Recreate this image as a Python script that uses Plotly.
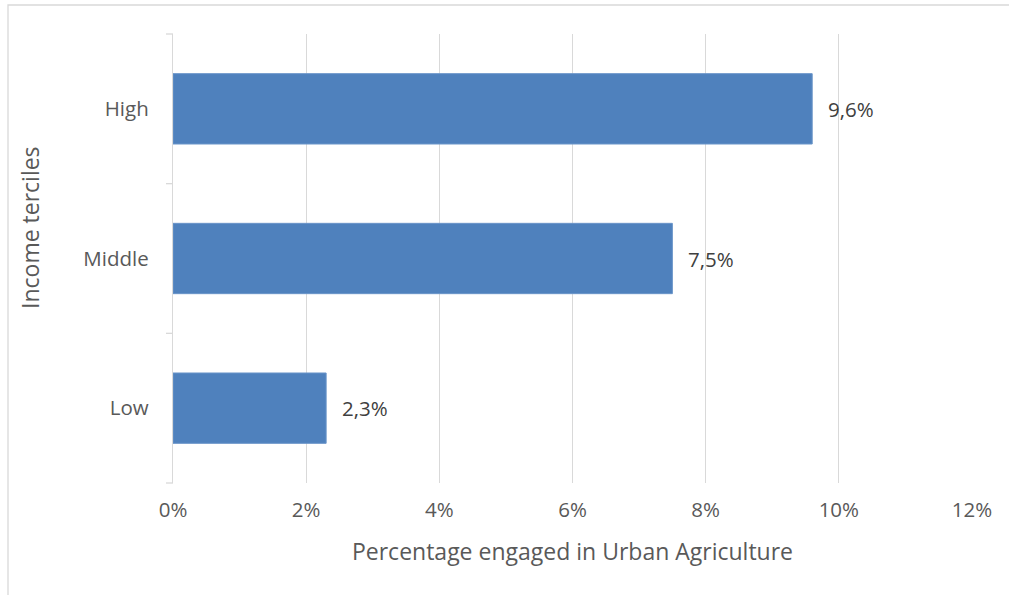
import plotly.graph_objects as go

categories = ["Low", "Middle", "High"]
values = [2.3, 7.5, 9.6]
tick_vals = [0, 2, 4, 6, 8, 10, 12]
tick_text = [f"{v}%" for v in tick_vals]

labels = [f"{v:.1f}".replace(".", ",") + "%" for v in values]

fig = go.Figure()
fig.add_trace(go.Bar(
    y=categories, x=values, orientation="h",
    marker=dict(color="#4f81bd", line=dict(color="#6a95c9", width=1)),
    width=0.47,
    hoverinfo="skip",
))

for c, v, t in zip(categories, values, labels):
    fig.add_annotation(x=v, y=c, text=t, showarrow=False, xanchor="left",
                       xshift=14, font=dict(family="Open Sans", size=20.5, color="#404040"))

# y-axis title (placed as annotation to match original vertical offset)
fig.add_annotation(xref="paper", yref="paper", x=(30 - 173) / 799, y=(483 - 228) / 449,
                   text="Income terciles", textangle=-90, showarrow=False,
                   xanchor="center", yanchor="middle",
                   font=dict(family="Open Sans", size=23, color="#595959"))

fig.update_layout(
    width=1009, height=595,
    margin=dict(l=173, r=37, t=34, b=112),
    paper_bgcolor="white", plot_bgcolor="white",
    font=dict(family="Open Sans", size=20.5, color="#595959"),
    showlegend=False,
    xaxis=dict(range=[0, 12], tickvals=tick_vals, ticktext=tick_text,
               showgrid=True, gridcolor="#d9d9d9", gridwidth=1.3,
               zeroline=False, showline=False, ticks="",
               ticklabelstandoff=12,
               tickfont=dict(size=20.5, color="#595959"),
               title=dict(text="Percentage engaged in Urban Agriculture",
                          font=dict(size=23, color="#595959"), standoff=22)),
    yaxis=dict(categoryorder="array", categoryarray=categories,
               showline=True, linecolor="#d9d9d9", linewidth=1.3,
               showgrid=False, zeroline=False,
               ticks="", ticklabelstandoff=19,
               tickfont=dict(size=20.5, color="#595959")),
    shapes=[
        dict(type="rect", xref="paper", yref="paper",
             x0=(8 - 173) / 799, x1=1.2, y0=-0.5, y1=(483 - 5) / 449,
             line=dict(color="#d9d9d9", width=1.3), layer="below"),
    ] + [
        dict(type="line", xref="paper", yref="paper",
             x0=-7 / 799, x1=0, y0=k / 3, y1=k / 3,
             line=dict(color="#d9d9d9", width=1.3))
        for k in range(4)
    ],
)

fig.write_html("out.html", config={"displayModeBar": False},
               post_script="document.body.style.margin='0';")
